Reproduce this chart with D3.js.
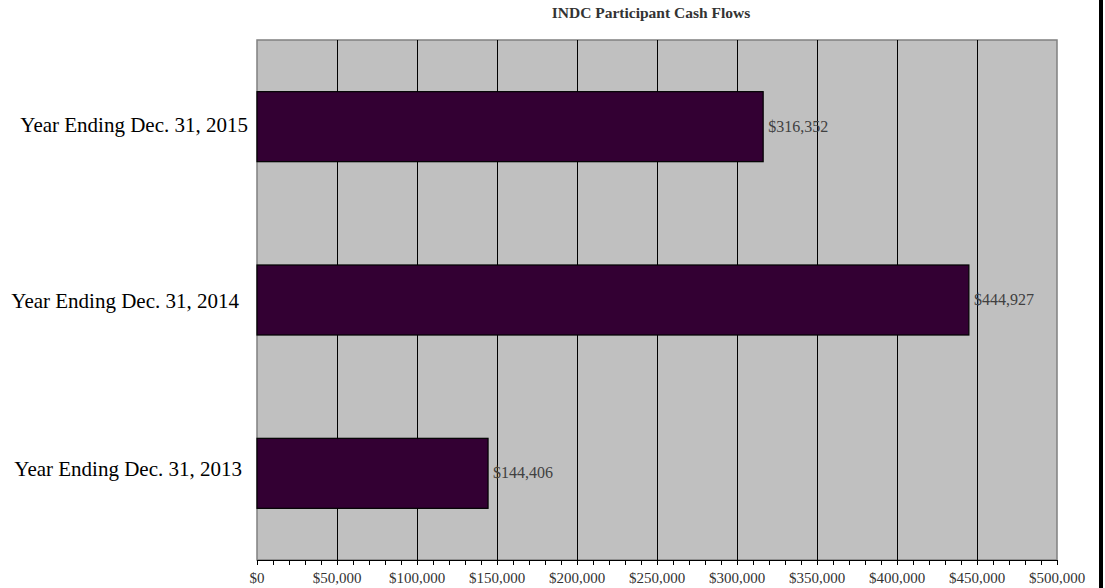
<!DOCTYPE html>
<html><head><meta charset="utf-8">
<script src="https://cdn.jsdelivr.net/npm/d3@7"></script>
<style>body{margin:0;background:#fff}svg{display:block}</style>
</head><body>
<svg id="c" width="1105" height="588"></svg>
<script>
const categories = ["Year Ending Dec. 31, 2015", "Year Ending Dec. 31, 2014", "Year Ending Dec. 31, 2013"];
const values = [316352, 444927, 144406];
const tickValues = [0, 50000, 100000, 150000, 200000, 250000, 300000, 350000, 400000, 450000, 500000];
const title = "INDC Participant Cash Flows";

const svg = d3.select("#c");
const L = 257, R = 1057, T = 40, B = 560;
const labelRight = [248, 239, 242];
const labelDy = [5, 8, 3];
const x = d3.scaleLinear().domain([0, 500000]).range([L, R]);
const y = d3.scaleBand().domain(categories).range([T, B]).paddingInner(0.596).paddingOuter(0.298);
const fmt = v => "$" + d3.format(",")(v);
const serif = "'Liberation Serif','Times New Roman',serif";

svg.append("text").attr("x", 651).attr("y", 18).attr("text-anchor", "middle")
  .attr("font-family", serif).attr("font-weight", "bold").attr("font-size", 15.5).attr("fill", "#333")
  .text(title);

svg.append("rect").attr("x", L).attr("y", T).attr("width", R - L).attr("height", B - T)
  .attr("fill", "#c0c0c0").attr("stroke", "#808080").attr("stroke-width", 1.5);

svg.append("g").selectAll("line").data(tickValues.slice(1, -1)).join("line")
  .attr("x1", d => Math.round(x(d)) + 0.5).attr("x2", d => Math.round(x(d)) + 0.5)
  .attr("y1", T).attr("y2", B).attr("stroke", "#000").attr("stroke-width", 1);

svg.append("g").selectAll("rect").data(values).join("rect")
  .attr("x", L).attr("y", (d, i) => y(categories[i]))
  .attr("width", d => x(d) - L).attr("height", y.bandwidth())
  .attr("fill", "#330033").attr("stroke", "#000").attr("stroke-width", 1.2);

svg.append("g").selectAll("text").data(values).join("text")
  .attr("x", d => x(d) + 5).attr("y", (d, i) => y(categories[i]) + y.bandwidth() / 2 + 5)
  .attr("font-family", serif).attr("font-size", 16).attr("fill", "#404040")
  .text(d => fmt(d));

svg.append("g").selectAll("text").data(categories).join("text")
  .attr("x", (d, i) => labelRight[i]).attr("y", (d, i) => y(d) + y.bandwidth() / 2 + labelDy[i])
  .attr("text-anchor", "end").attr("font-family", serif).attr("font-size", 21).attr("fill", "#000")
  .text(d => d);

const axis = d3.axisBottom(x).tickValues(d3.range(0, 500001, 10000)).tickSize(5).tickFormat(() => "");
const ag = svg.append("g").attr("transform", `translate(0,${B})`).call(axis);
ag.select(".domain").attr("stroke", "#000");
ag.selectAll(".tick line").attr("stroke", "#000");
svg.append("g").selectAll("text").data(tickValues).join("text")
  .attr("x", d => x(d)).attr("y", 583).attr("text-anchor", "middle")
  .attr("font-family", serif).attr("font-size", 15).attr("fill", "#333")
  .text(d => fmt(d));

svg.append("rect").attr("x", 1099).attr("y", 0).attr("width", 4).attr("height", 588).attr("fill", "#000");
</script>
</body></html>
